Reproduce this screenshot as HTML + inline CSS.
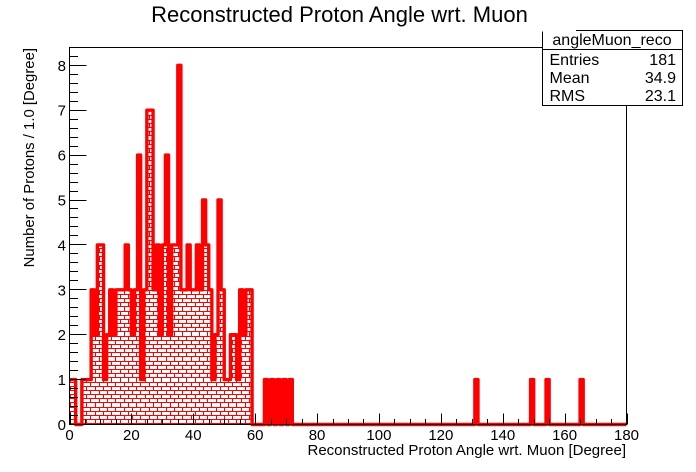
<!DOCTYPE html>
<html lang="en">
<head>
<meta charset="utf-8">
<title>Reconstructed Proton Angle wrt. Muon</title>
<style>
html,body{margin:0;padding:0;background:#fff;}
svg{display:block;}
text{font-family:"Liberation Sans",Arial,sans-serif;fill:#000;}
</style>
</head>
<body>
<svg id="chart" xmlns="http://www.w3.org/2000/svg" width="696" height="472" viewBox="0 0 696 472">
<defs>
<clipPath id="histClip"><path id="histClipShape" d=""/></clipPath>
</defs>
<rect x="0" y="0" width="696" height="472" fill="#fff"/>
<g id="marks"></g>
<g id="axes"></g>
<rect x="69.5" y="47.5" width="557" height="377" fill="none" stroke="#000" stroke-width="1" shape-rendering="crispEdges"/>
<text x="339.5" y="22" font-size="22" text-anchor="middle">Reconstructed Proton Angle wrt. Muon</text>
<text x="626" y="455" font-size="15" text-anchor="end">Reconstructed Proton Angle wrt. Muon [Degree]</text>
<text transform="translate(34,48) rotate(-90)" font-size="14.9" text-anchor="end">Number of Protons / 1.0 [Degree]</text>
<g>
<rect x="542.5" y="31" width="140" height="75" fill="#fff"/>
<path d="M542.5 31.5V105.5H682.5V30.5H576M542.5 49.5H682.5" fill="none" stroke="#000" stroke-width="1" shape-rendering="crispEdges"/>
<text x="612" y="45" font-size="16" text-anchor="middle">angleMuon_reco</text>
<text x="549.5" y="65" font-size="16">Entries</text>
<text x="676" y="65" font-size="16" text-anchor="end">181</text>
<text x="549.5" y="83" font-size="16">Mean</text>
<text x="676" y="83" font-size="16" text-anchor="end">34.9</text>
<text x="549.5" y="101" font-size="16">RMS</text>
<text x="676" y="101" font-size="16" text-anchor="end">23.1</text>
</g>
</svg>
<script>
const binCounts = [
1,1,0,0,1,1,1,3,2,4, 4,1,2,3,2,3,3,3,4,3,
2,3,6,1,3,7,7,3,4,2, 4,6,2,4,4,8,3,3,4,3,
3,4,3,5,4,3,1,2,5,3, 1,1,2,2,1,3,2,3,3,0,
0,0,0,1,0,1,0,1,0,1, 0,1,0,0,0,0,0,0,0,0,
0,0,0,0,0,0,0,0,0,0, 0,0,0,0,0,0,0,0,0,0,
0,0,0,0,0,0,0,0,0,0, 0,0,0,0,0,0,0,0,0,0,
0,0,0,0,0,0,0,0,0,0, 0,1,0,0,0,0,0,0,0,0,
0,0,0,0,0,0,0,0,0,1, 0,0,0,0,1,0,0,0,0,0,
0,0,0,0,0,1,0,0,0,0, 0,0,0,0,0,0,0,0,0,0
];
const xTickLabels = [0,20,40,60,80,100,120,140,160,180];
const yTickLabels = [0,1,2,3,4,5,6,7,8];
const xMinorStep = 5;
const yMinorStep = 0.2;
const xDomain = [0,180];
const yDomain = [0,8.4];

const SVG_NS = 'http://www.w3.org/2000/svg';
const plot = {left:69.5,right:626.5,bottom:424.5,unit:44.9};
const brick = {w:8.34,h:4.17,originX:166,originY:382};
function xAxis(v){return plot.left+(v-xDomain[0])*(plot.right-plot.left)/(xDomain[1]-xDomain[0]);}
function yAxis(v){return plot.bottom-(v-yDomain[0])*plot.unit;}
function snap(p){return Math.round(p);}

let outline = '';
binCounts.forEach(function(count,i){
  const a = xAxis(i).toFixed(2);
  const b = xAxis(i+1).toFixed(2);
  const y = yAxis(count).toFixed(1);
  outline += (i===0?'M':'L')+a+' '+y+'L'+b+' '+y;
});
document.getElementById('histClipShape').setAttribute('d', outline+'L'+xAxis(binCounts.length)+' '+yAxis(0)+'L'+xAxis(0)+' '+yAxis(0)+'Z');

let brickLines = '';
const maxCount = Math.max.apply(null,binCounts);
const rowsUp = Math.ceil((brick.originY-yAxis(maxCount))/brick.h);
const rowsDown = Math.ceil((plot.bottom-brick.originY)/brick.h);
for(let r=-rowsUp;r<=rowsDown;r++){
  const top = brick.originY+r*brick.h;
  const rowY = Math.floor(top)+0.5;
  const nextY = Math.floor(top+brick.h)+0.5;
  brickLines += 'M'+plot.left+' '+rowY+'H'+plot.right;
  const offset = ((r%2)+2)%2===0?0:brick.w/2;
  for(let c=-13;c<=56;c++){
    const vx = Math.floor(brick.originX+offset+c*brick.w)+0.5;
    brickLines += 'M'+vx+' '+rowY+'V'+nextY;
  }
}

const marks = document.getElementById('marks');
const fillGroup = document.createElementNS(SVG_NS,'g');


fillGroup.setAttribute('clip-path', 'url(#histClip)');
const brickPath = document.createElementNS(SVG_NS,'path');


brickPath.setAttribute('d', brickLines);
brickPath.setAttribute('fill', 'none');
brickPath.setAttribute('stroke', '#f00');
brickPath.setAttribute('stroke-width', '1');
brickPath.setAttribute('shape-rendering', 'crispEdges');
fillGroup.appendChild(brickPath);
marks.appendChild(fillGroup);
const linePath = document.createElementNS(SVG_NS,'path');


linePath.setAttribute('d', outline);
linePath.setAttribute('fill', 'none');
linePath.setAttribute('stroke', '#f00');
linePath.setAttribute('stroke-width', '3.4');
linePath.setAttribute('stroke-linejoin', 'round');
marks.appendChild(linePath);

const axes = document.getElementById('axes');
function tickLine(x1,y1,x2,y2,name){
  const l = document.createElementNS(SVG_NS,'line');
  
  
  l.setAttribute('x1', x1);
  l.setAttribute('y1', y1);
  l.setAttribute('x2', x2);
  l.setAttribute('y2', y2);
  l.setAttribute('stroke', '#000');
  l.setAttribute('stroke-width', '1');
  l.setAttribute('shape-rendering', 'crispEdges');
  axes.appendChild(l);
}
function tickText(x,y,anchor,str,name){
  const t = document.createElementNS(SVG_NS,'text');
  
  
  t.setAttribute('x', x);
  t.setAttribute('y', y);
  t.setAttribute('font-size', '15');
  t.setAttribute('text-anchor', anchor);
  t.textContent = str;
  axes.appendChild(t);
}
for(let v=xDomain[0];v<=xDomain[1];v+=xMinorStep){
  const major = xTickLabels.indexOf(v)>=0;
  const px = snap(xAxis(v))+0.5;
  tickLine(px,plot.bottom,px,plot.bottom-(major?11:5.5),major?'x-major-tick':'x-minor-tick');
}
xTickLabels.forEach(function(v){
  tickText(xAxis(v),440,'middle',String(v),'x-tick-label');
});
const yMinorCount = Math.floor((yDomain[1]-yDomain[0])/yMinorStep+0.001);
for(let k=0;k<=yMinorCount;k++){
  const v = yDomain[0]+k*yMinorStep;
  const major = k%5===0;
  const py = Math.floor(yAxis(v))+0.5;
  tickLine(plot.left,py,plot.left+(major?17:8.5),py,major?'y-major-tick':'y-minor-tick');
}
yTickLabels.forEach(function(v){
  tickText(66,yAxis(v)+5.5,'end',String(v),'y-tick-label');
});
</script>
</body>
</html>
